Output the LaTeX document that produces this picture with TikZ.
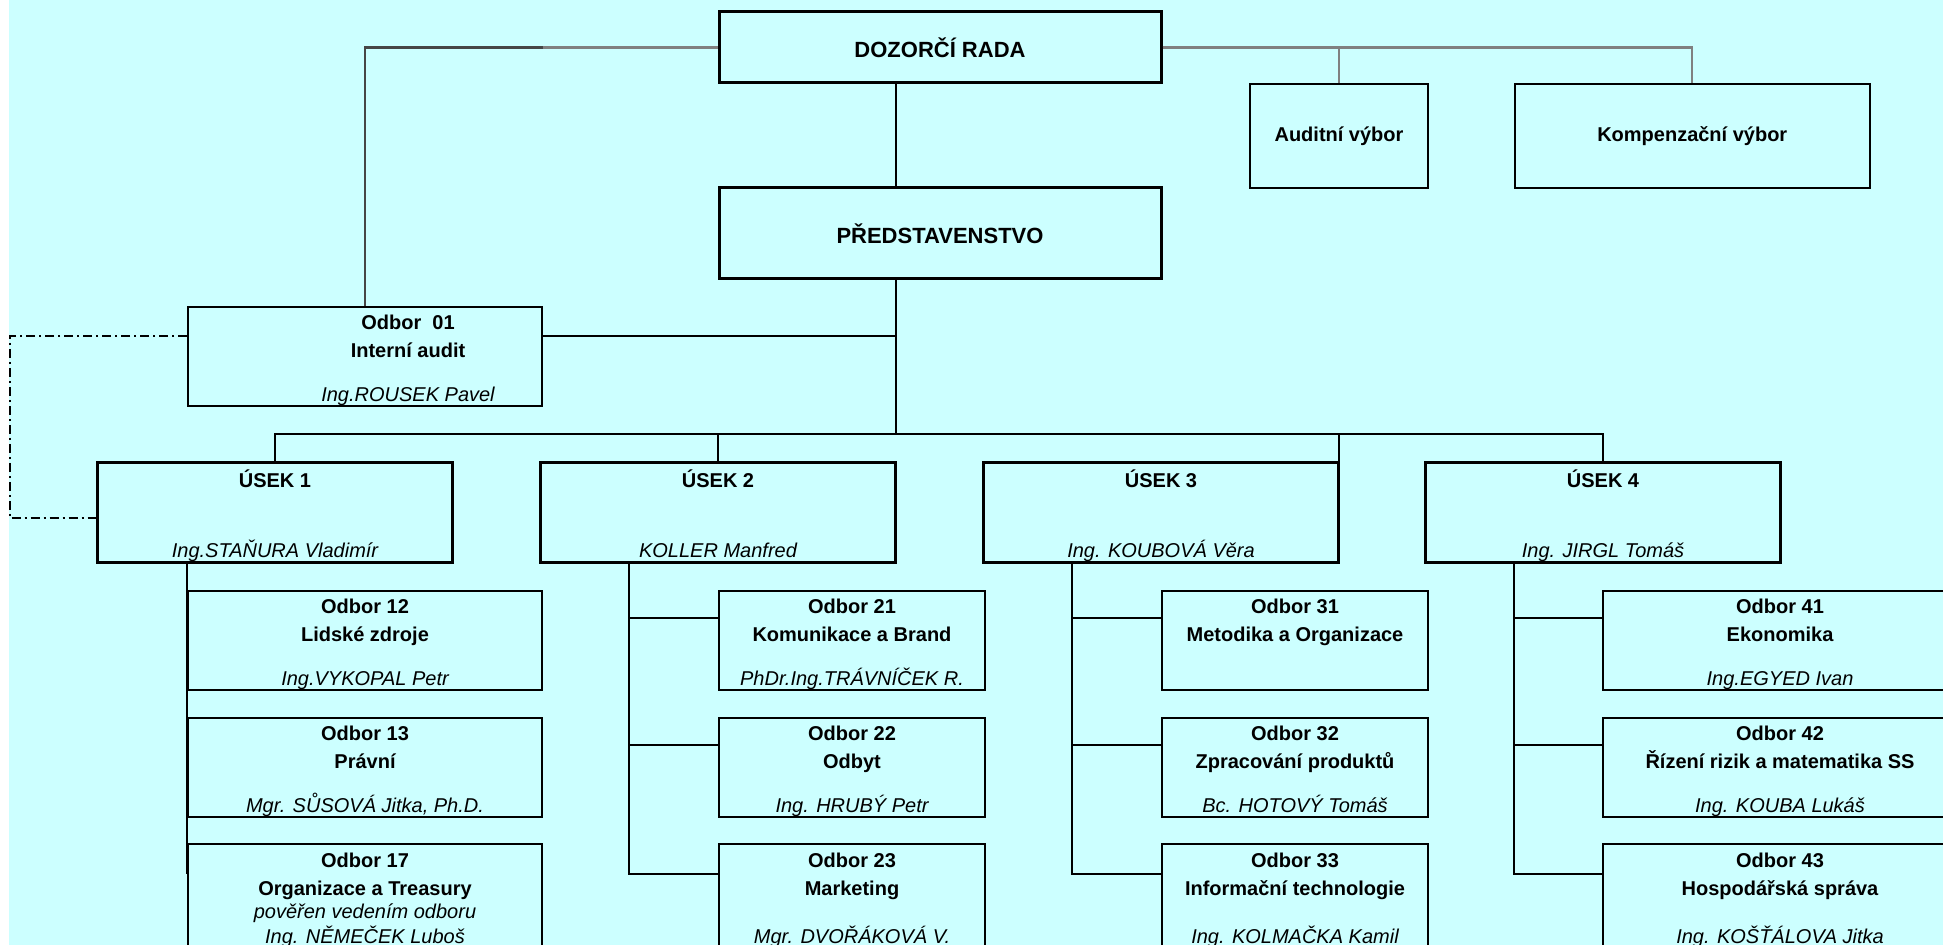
\documentclass[tikz,border=0pt]{standalone}
\usepackage{fontspec}
\setmainfont{Liberation Sans}
\definecolor{paleblue}{RGB}{204,255,255}
\definecolor{midgray}{RGB}{128,128,128}
\definecolor{deepgray}{RGB}{70,70,70}
\newcommand{\headname}[1]{{\mdseries\itshape #1\vphantom{g}}}
\newcommand{\toprow}{\rule{0pt}{11.5pt}}

\begin{document}
\begin{tikzpicture}[x=0.5pt, y=-0.5pt,
  bigbox/.style = {draw, line width=1.5pt, inner sep=0pt, align=center, font=\fontsize{10}{14}\selectfont\bfseries},
  smallbox/.style = {draw, line width=1pt, inner sep=0pt, align=center, font=\fontsize{10}{14}\selectfont\bfseries},
  odbor/.style = {smallbox, minimum height=49.5pt},
  lastrow/.style = {smallbox, minimum height=51pt},
  usek/.style = {bigbox, minimum width=177.5pt, minimum height=50pt},
  link/.style = {line width=1pt},
  grayline/.style = {line width=1.2pt, draw=midgray},
  auditlink/.style = {line width=1pt, dash pattern=on 4.5pt off 2pt on 1pt off 2pt}]

\useasboundingbox (0,0) rectangle (1943,945);
\clip (0,0) rectangle (1943,945);
\fill[white] (0,0) rectangle (1943,945);
\fill[paleblue] (9,0) rectangle (1943,945);

% board and committees
\node (dr) at (940,47.5) [bigbox, minimum width=221pt, minimum height=35.5pt, font=\fontsize{11}{14}\selectfont\bfseries] {DOZORČÍ RADA};
\node (pr) at (940,233.5) [bigbox, minimum width=221pt, minimum height=45.5pt, font=\fontsize{11}{14}\selectfont\bfseries] {PŘEDSTAVENSTVO};
\node (audit) at (1339,136) [smallbox, minimum width=89pt, minimum height=52pt] {Auditní výbor};
\node (komp) at (1692.25,136) [smallbox, minimum width=177.25pt, minimum height=52pt] {Kompenzační výbor};

% internal audit
\node (o01) at (365,356.5) [odbor, minimum width=177pt] {};
\node (o01t) at ([xshift=21.5pt]o01.center) [align=center, font=\fontsize{10}{14}\selectfont\bfseries] {\toprow Odbor\ \ 01\\Interní audit\\[8pt]\headname{Ing.ROUSEK Pavel}};

% useky
\node (u1) at (275,513) [usek] {\toprow ÚSEK 1\\[21pt]\headname{Ing.STAŇURA Vladimír}};
\node (u2) at (718,513) [usek] {\toprow ÚSEK 2\\[21pt]\headname{KOLLER Manfred}};
\node (u3) at (1161,513) [usek] {\toprow ÚSEK 3\\[21pt]\headname{Ing. KOUBOVÁ Věra}};
\node (u4) at (1603,513) [usek] {\toprow ÚSEK 4\\[21pt]\headname{Ing. JIRGL Tomáš}};

% odbory, usek 1
\node (o12) at (365,640.5) [odbor, minimum width=177pt] {\toprow Odbor 12\\Lidské zdroje\\[8pt]\headname{Ing.VYKOPAL Petr}};
\node (o13) at (365,767.5) [odbor, minimum width=177pt] {\toprow Odbor 13\\Právní\\[8pt]\headname{Mgr. SŮSOVÁ Jitka, Ph.D.}};
\node (o17) at (365,896) [lastrow, minimum width=177pt] {\toprow Odbor 17\\Organizace a Treasury\\[-2.5pt]\headname{pověřen vedením odboru}\\[-1.5pt]\headname{Ing. NĚMEČEK Luboš}};

% odbory, usek 2
\node (o21) at (852,640.5) [odbor, minimum width=133pt] {\toprow Odbor 21\\Komunikace a Brand\\[8pt]\headname{PhDr.Ing.TRÁVNÍČEK R.}};
\node (o22) at (852,767.5) [odbor, minimum width=133pt] {\toprow Odbor 22\\Odbyt\\[8pt]\headname{Ing. HRUBÝ Petr}};
\node (o23) at (852,896) [lastrow, minimum width=133pt] {\toprow Odbor 23\\Marketing\\[10pt]\headname{Mgr. DVOŘÁKOVÁ V.}};

% odbory, usek 3
\node (o31) at (1295,640.5) [odbor, minimum width=133pt] {\toprow Odbor 31\\Metodika a Organizace\\[8pt]\phantom{g}};
\node (o32) at (1295,767.5) [odbor, minimum width=133pt] {\toprow Odbor 32\\Zpracování produktů\\[8pt]\headname{Bc. HOTOVÝ Tomáš}};
\node (o33) at (1295,896) [lastrow, minimum width=133pt] {\toprow Odbor 33\\Informační technologie\\[10pt]\headname{Ing. KOLMAČKA Kamil}};

% odbory, usek 4
\node (o41) at (1780,640.5) [odbor, minimum width=177pt] {\toprow Odbor 41\\Ekonomika\\[8pt]\headname{Ing.EGYED Ivan}};
\node (o42) at (1780,767.5) [odbor, minimum width=177pt] {\toprow Odbor 42\\Řízení rizik a matematika SS\\[8pt]\headname{Ing. KOUBA Lukáš}};
\node (o43) at (1780,896) [lastrow, minimum width=177pt] {\toprow Odbor 43\\Hospodářská správa\\[10pt]\headname{Ing. KOŠŤÁLOVA Jitka}};

% helper points
\coordinate (hub) at (896,434);
\coordinate (bend) at (dr.west -| o01.east);
\coordinate (o01r) at ([yshift=10.25pt]o01.east);
\coordinate (o01l) at ([yshift=10.25pt]o01.west);
\coordinate (u1l) at ([yshift=-2.75pt]u1.west);
\coordinate (fence) at (10,420);
\coordinate (s1) at (u1.south -| o12.west);
\coordinate (s2) at ([xshift=45pt]u2.south west);
\coordinate (s3) at ([xshift=45pt]u3.south west);
\coordinate (s4) at ([xshift=45pt]u4.south west);

% supervisory lines
\draw[grayline] (dr.east) -| (komp.north);
\draw[grayline] (audit.north) -- (audit.north |- dr.east);
\draw[grayline] (dr.west) -- (bend);
\draw[grayline, draw=deepgray] (bend) -| (o01.north);

% management lines
\draw[link] (dr.south -| hub) -- (pr.north -| hub);
\draw[link] (pr.south -| hub) -- (hub);
\draw[link] (o01r) -| (hub);
\draw[link] (u1.north) |- (hub) -| (u4.north);
\draw[link] (u2.north) -- (u2.north |- hub);
\draw[link] (audit.south |- hub) -- (audit.south |- u3.north);
\draw[auditlink] (o01l) -| (fence) |- (u1l);

% usek 1
\draw[link] (s1) |- ([yshift=11.25pt]o12.west);
\draw[link] (s1) |- ([yshift=11.25pt]o13.west);
\draw[link] (s1) |- ([yshift=11.25pt]o17.west);
% usek 2
\draw[link] (s2) |- ([yshift=11.25pt]o21.west);
\draw[link] (s2) |- ([yshift=11.25pt]o22.west);
\draw[link] (s2) |- ([yshift=11.25pt]o23.west);
% usek 3
\draw[link] (s3) |- ([yshift=11.25pt]o31.west);
\draw[link] (s3) |- ([yshift=11.25pt]o32.west);
\draw[link] (s3) |- ([yshift=11.25pt]o33.west);
% usek 4
\draw[link] (s4) |- ([yshift=11.25pt]o41.west);
\draw[link] (s4) |- ([yshift=11.25pt]o42.west);
\draw[link] (s4) |- ([yshift=11.25pt]o43.west);
\end{tikzpicture}
\end{document}
